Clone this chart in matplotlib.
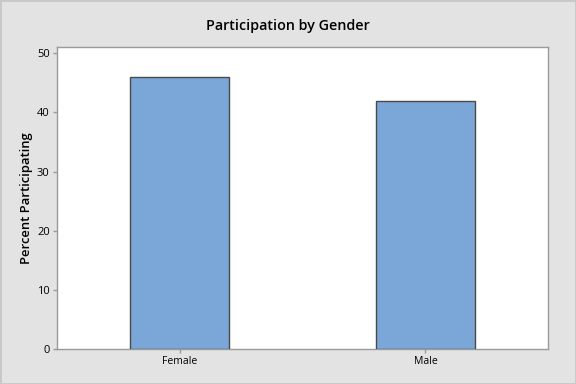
import matplotlib
matplotlib.use("Agg")
import matplotlib.pyplot as plt

categories = ["Female", "Male"]
values = [46, 42]
yticks = [0, 10, 20, 30, 40, 50]

plt.rcParams['font.family'] = ['Open Sans', 'DejaVu Sans']

fig = plt.figure(figsize=(5.76, 3.84), dpi=100, facecolor='#e3e3e3')
ax = fig.add_axes([56.7/576, 1-349.3/384, (548.3-56.7)/576, (349.3-47)/384])
ax.set_facecolor('white')

x = list(range(len(categories)))
ax.bar(x, values, width=0.4, color='#7ba7d8', edgecolor='#4a4a4a', linewidth=1.0, zorder=3)
ax.set_xlim(-0.5, 1.5)
ax.set_ylim(0, 51.06)
ax.set_xticks(x)
ax.set_xticklabels(categories, fontsize=7.5)
ax.set_yticks(yticks)
ax.set_yticklabels([str(t) for t in yticks], fontsize=8)
for s in ax.spines.values():
    s.set_color('#9a9a9a')
    s.set_linewidth(1.0)
ax.tick_params(axis='both', direction='out', length=3, color='#9a9a9a', width=1, pad=2, labelcolor='black')

ax.set_ylabel("Percent Participating", fontsize=9.4, fontweight='semibold', labelpad=3)
fig.text(0.5, 1-26/384, "Participation by Gender", ha='center', va='center', fontsize=10.3, fontweight='semibold')

# figure border
fig.patches.append(plt.Rectangle((0, 0), 1, 1, transform=fig.transFigure, fill=False,
                                 edgecolor='#c8c8c8', linewidth=2))

fig.savefig("out.png", dpi=100, facecolor=fig.get_facecolor())
